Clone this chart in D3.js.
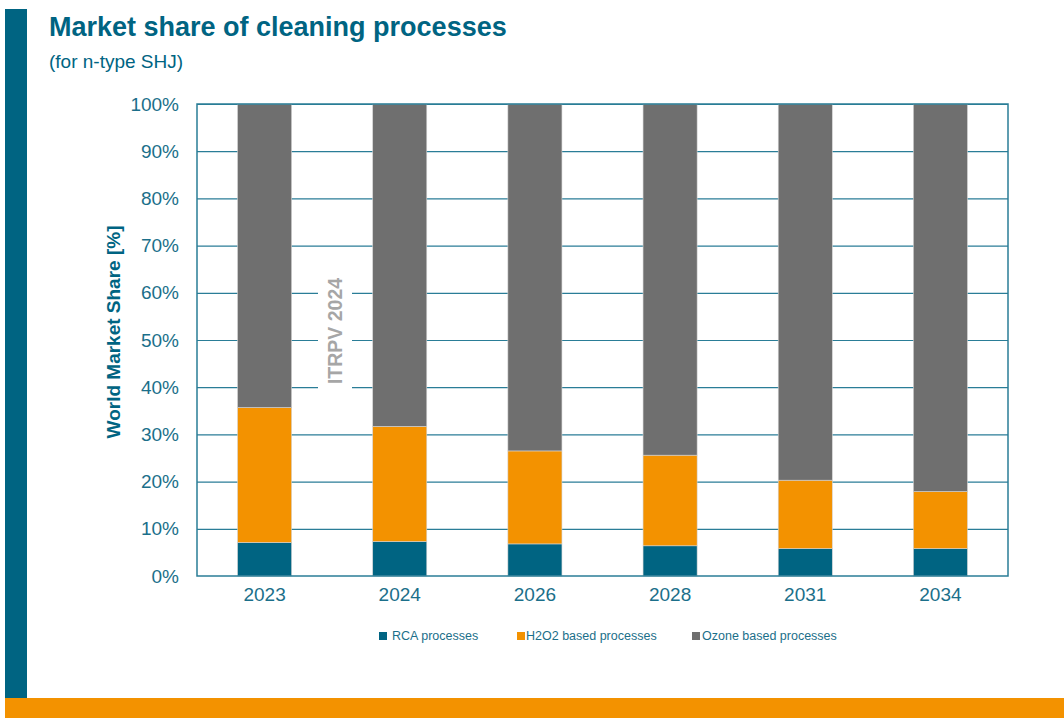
<!DOCTYPE html>
<html>
<head>
<meta charset="utf-8">
<script src="https://cdn.jsdelivr.net/npm/d3@7"></script>
<style>
  html, body { margin: 0; padding: 0; background: #fff; }
  svg { display: block; font-family: Arial, "Liberation Sans", sans-serif; }
</style>
</head>
<body>
<svg id="chart" width="1064" height="718"></svg>
<script>
// Survey years on the x axis
const years = ["2023", "2024", "2026", "2028", "2031", "2034"];
// Share of each cleaning process per year, in percent
const rcaShare   = [7.1, 7.3, 6.8, 6.4, 5.8, 5.8];
const h2o2Share  = [28.6, 24.4, 19.7, 19.2, 14.5, 12.1];
const ozoneShare = [64.3, 68.3, 73.5, 74.4, 79.7, 82.1];
const seriesNames = ["RCA processes", "H2O2 based processes", "Ozone based processes"];
const yTicks = [0, 10, 20, 30, 40, 50, 60, 70, 80, 90, 100];

const colors = ["#006482", "#f39200", "#6f6f6f"];
const teal = "#006482";
const labelColor = "#1b6f8a";
const axisColor = "#2a7d97";

const svg = d3.select("#chart");

// Frame decoration: vertical band on the left and band along the bottom
svg.append("rect").attr("x", 5).attr("y", 9).attr("width", 22).attr("height", 689).attr("fill", "#006482");
svg.append("rect").attr("x", 5).attr("y", 698).attr("width", 1059).attr("height", 20).attr("fill", "#f39200");

// Title block
svg.append("text").attr("x", 49).attr("y", 36)
  .attr("font-size", 27).attr("font-weight", "bold").attr("fill", teal)
  .text("Market share of cleaning processes");
svg.append("text").attr("x", 49).attr("y", 68)
  .attr("font-size", 19).attr("fill", teal)
  .text("(for n-type SHJ)");

const plot = { left: 197, right: 1008, top: 104, bottom: 576 };

const x = d3.scaleBand().domain(years)
  .range([plot.left, plot.right]).paddingInner(0.6).paddingOuter(0.3);
const y = d3.scaleLinear().domain([0, 100]).range([plot.bottom, plot.top]);

// Gridlines
svg.append("g").selectAll("line").data(yTicks.filter(t => t > 0)).join("line")
  .attr("x1", plot.left).attr("x2", plot.right)
  .attr("y1", d => y(d) + 0.5).attr("y2", d => y(d) + 0.5)
  .attr("stroke", axisColor).attr("stroke-width", 1.2);

// Stacked bars
const rows = years.map((yr, i) => ({
  year: yr,
  [seriesNames[0]]: rcaShare[i],
  [seriesNames[1]]: h2o2Share[i],
  [seriesNames[2]]: ozoneShare[i]
}));
const stacked = d3.stack().keys(seriesNames)(rows);

svg.append("g").selectAll("g").data(stacked).join("g")
  .attr("fill", (d, i) => colors[i])
  .selectAll("rect").data(d => d).join("rect")
  .attr("x", d => x(d.data.year))
  .attr("y", d => y(d[1]))
  .attr("width", x.bandwidth())
  .attr("height", d => y(d[0]) - y(d[1]))
  .attr("stroke", "#d4d4d4").attr("stroke-width", 0.6);

// Plot frame
svg.append("rect")
  .attr("x", plot.left).attr("y", plot.top)
  .attr("width", plot.right - plot.left).attr("height", plot.bottom - plot.top)
  .attr("fill", "none").attr("stroke", axisColor).attr("stroke-width", 1.5);

// Y axis
const yAxis = svg.append("g").attr("transform", `translate(${plot.left},0)`)
  .call(d3.axisLeft(y).tickValues(yTicks).tickFormat(d => d + "%").tickSize(0).tickPadding(18));
yAxis.select(".domain").remove();
yAxis.selectAll("text").attr("font-size", 19).attr("fill", labelColor)
  .attr("font-family", "Arial, 'Liberation Sans', sans-serif");

// X axis
const xAxis = svg.append("g").attr("transform", `translate(0,${plot.bottom})`)
  .call(d3.axisBottom(x).tickSize(0).tickPadding(11.5));
xAxis.select(".domain").remove();
xAxis.selectAll("text").attr("font-size", 19).attr("fill", labelColor)
  .attr("font-family", "Arial, 'Liberation Sans', sans-serif");

// Y axis title
svg.append("text")
  .attr("transform", `translate(120,332) rotate(-90)`)
  .attr("text-anchor", "middle").attr("font-size", 19).attr("font-weight", "bold")
  .attr("fill", teal).text("World Market Share [%]");

// Watermark with white backing
const wm = svg.append("g").attr("transform", "translate(335,331) rotate(-90)");
wm.append("rect").attr("x", -60).attr("y", -17).attr("width", 120).attr("height", 34).attr("fill", "#fff");
wm.append("text").attr("text-anchor", "middle").attr("dy", "0.36em")
  .attr("font-size", 19.5).attr("font-weight", "bold").attr("fill", "#a6a6a6")
  .text("ITRPV 2024");

// Legend
const legendSquareX = [379, 517, 692];
const legendTextX = [392, 526, 702];
const legend = svg.append("g").selectAll("g").data(seriesNames).join("g");
legend.append("rect")
  .attr("x", (d, i) => legendSquareX[i]).attr("y", 632)
  .attr("width", 8).attr("height", 8)
  .attr("fill", (d, i) => colors[i]);
legend.append("text")
  .attr("x", (d, i) => legendTextX[i]).attr("y", 636).attr("dy", "0.35em")
  .attr("font-size", 12.5).attr("fill", labelColor).text(d => d);
</script>
</body>
</html>
